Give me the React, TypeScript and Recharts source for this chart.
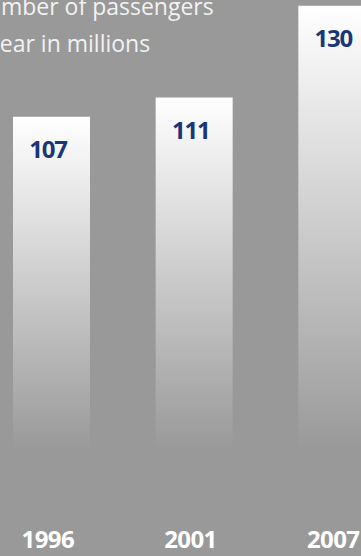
import { BarChart, Bar, XAxis, YAxis, LabelList } from "recharts";

const years = ["1996", "2001", "2007"];
const passengers = [107, 111, 130];
const titleLines = ["Number of passengers", "a year in millions"];

const data = years.map((year, i) => ({ year, value: passengers[i] }));

const BG = "#999999";
const BLUE = "#1a3677";
const FONT = "'Open Sans', 'Noto Sans', sans-serif";

const YearTick = (props: any) => {
  const { x, y, payload } = props;
  return (
    <text
      x={x - 3.5}
      y={y}
      dy={90}
      textAnchor="middle"
      fill="#ffffff"
      fontFamily={FONT}
      fontWeight={700}
      fontSize={24}
      letterSpacing={-0.6}
    >
      {payload.value}
    </text>
  );
};

const ValueLabel = (props: any) => {
  const { x, y, width, value } = props;
  return (
    <text
      x={x + width / 2 - 3.5}
      y={y + 41}
      textAnchor="middle"
      fill={BLUE}
      fontFamily={FONT}
      fontWeight={700}
      fontSize={24}
      letterSpacing={-1.2}
    >
      {value}
    </text>
  );
};

export default function App() {
  return (
    <div
      style={{
        position: "absolute",
        top: 0,
        left: 0,
        width: 361,
        height: 556,
        overflow: "hidden",
        background: BG,
      }}
    >
      <div style={{ position: "absolute", top: 0, left: -20 }}>
        <BarChart
          width={428}
          height={556}
          data={data}
          margin={{ top: 1, right: 0, bottom: 0, left: 0 }}
        >
          <defs>
            <linearGradient id="barFade" x1="0" y1="0" x2="0" y2="1">
              <stop offset="0%" stopColor="#ffffff" />
              <stop offset="100%" stopColor={BG} />
            </linearGradient>
          </defs>
          <XAxis
            dataKey="year"
            axisLine={false}
            tickLine={false}
            height={106}
            interval={0}
            tick={<YearTick />}
          />
          <YAxis hide domain={[38, 131]} />
          <Bar
            dataKey="value"
            barSize={77}
            fill="url(#barFade)"
            isAnimationActive={false}
          >
            <LabelList dataKey="value" content={<ValueLabel />} />
          </Bar>
        </BarChart>
      </div>
      {/* title is cropped at the left edge, as in the source */}
      <svg
        width={361}
        height={80}
        style={{ position: "absolute", top: 0, left: 0 }}
      >
        {titleLines.map((line, i) => (
          <text
            key={line}
            x={-30.5}
            y={15 + i * 36.5}
            fill="#f2f2f2"
            fontFamily={FONT}
            fontSize={23}
          >
            {line}
          </text>
        ))}
      </svg>
    </div>
  );
}
